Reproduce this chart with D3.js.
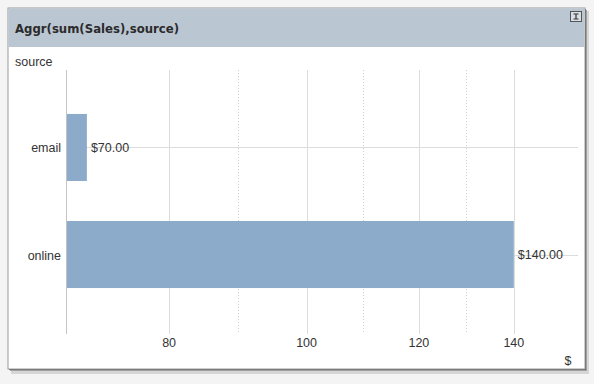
<!DOCTYPE html>
<html><head><meta charset="utf-8">
<script src="https://cdn.jsdelivr.net/npm/d3@7"></script>
<style>body{margin:0;background:#f4f4f4;}svg{display:block;}</style>
</head><body>
<svg id="c" width="594" height="384"></svg>
<script>
const categories = ["email", "online"];
const values = [70, 140];
const tickValues = [80, 100, 120, 140];
const valueLabels = ["$70.00", "$140.00"];
const title = "Aggr(sum(Sales),source)";
const dimLabel = "source";
const axisLabel = "$";

const svg = d3.select("#c");
const font = "'Liberation Sans', Arial, sans-serif";

// window shadow
svg.append("rect").attr("x", 11).attr("y", 11).attr("width", 578).attr("height", 363).attr("fill", "#d6d6d6");
svg.append("rect").attr("x", 10).attr("y", 10).attr("width", 577).attr("height", 361).attr("fill", "#a0a0a0");
svg.append("rect").attr("x", 9).attr("y", 9).attr("width", 577).attr("height", 361).attr("fill", "#5a5a5a");
// window
svg.append("rect").attr("x", 8).attr("y", 8).attr("width", 577).attr("height", 361).attr("fill", "#ffffff").attr("stroke", "#9a9a9a").attr("stroke-width", 1);
svg.append("rect").attr("x", 8.5).attr("y", 8.5).attr("width", 576).attr("height", 38.5).attr("fill", "#bbc6d3");
svg.append("text").attr("x", 15).attr("y", 33).attr("font-family", "Tahoma, 'DejaVu Sans', sans-serif").attr("font-weight", "bold")
  .attr("font-size", 13).attr("fill", "#2b2b2b").attr("textLength", 164).attr("lengthAdjust", "spacingAndGlyphs").text(title);
// minimize icon
const ic = svg.append("g").attr("transform", "translate(570,11)");
ic.append("rect").attr("x", 0.5).attr("y", 0.5).attr("width", 11).attr("height", 10).attr("fill", "#d8dee6").attr("stroke", "#555");
ic.append("path").attr("d", "M3.5,3 H8.5 M3.5,8 H8.5 M6,3 V8").attr("stroke", "#333").attr("stroke-width", 1.2);

const x = d3.scaleLog().domain([67.7, 155.3]).range([66.3, 577.7]);
const y = d3.scaleBand().domain(categories).range([69, 333]).paddingInner(0.374).paddingOuter(0.42);

// major grid
svg.append("g").selectAll("line").data(tickValues).join("line")
  .attr("x1", d => Math.round(x(d)) + 0.5).attr("x2", d => Math.round(x(d)) + 0.5)
  .attr("y1", 70).attr("y2", 334).attr("stroke", "#dcdcdc");
// minor grid at pixel midpoints
const mids = d3.pairs(tickValues).map(([a, b]) => (x(a) + x(b)) / 2);
svg.append("g").selectAll("line").data(mids).join("line")
  .attr("x1", d => Math.round(d) + 0.5).attr("x2", d => Math.round(d) + 0.5)
  .attr("y1", 70).attr("y2", 332).attr("stroke", "#d0d0d0").attr("stroke-dasharray", "1,2");
// category grid
svg.append("g").selectAll("line").data(categories).join("line")
  .attr("x1", 66).attr("x2", 578)
  .attr("y1", d => Math.round(y(d) + y.bandwidth() / 2) + 0.5).attr("y2", d => Math.round(y(d) + y.bandwidth() / 2) + 0.5)
  .attr("stroke", "#dcdcdc");

// bars
svg.append("g").selectAll("rect").data(values).join("rect")
  .attr("x", x.range()[0]).attr("y", (d, i) => y(categories[i]))
  .attr("width", d => x(d) - x.range()[0]).attr("height", y.bandwidth())
  .attr("fill", "#8caac9");

// y axis line
svg.append("line").attr("x1", 66.5).attr("x2", 66.5).attr("y1", 70).attr("y2", 334).attr("stroke", "#c4c4c4");

// value labels
svg.append("g").selectAll("text").data(values).join("text")
  .attr("x", d => x(d) + 4).attr("y", (d, i) => y(categories[i]) + y.bandwidth() / 2 + 4.5)
  .attr("font-family", font).attr("font-size", 12.5).attr("fill", "#333")
  .text((d, i) => valueLabels[i]);

// category labels
svg.append("g").selectAll("text").data(categories).join("text")
  .attr("x", 61).attr("y", d => y(d) + y.bandwidth() / 2 + 5).attr("text-anchor", "end")
  .attr("font-family", font).attr("font-size", 12.5).attr("fill", "#333").text(d => d);

// x tick labels
svg.append("g").selectAll("text").data(tickValues).join("text")
  .attr("x", d => x(d)).attr("y", 347).attr("text-anchor", "middle")
  .attr("font-family", font).attr("font-size", 12.5).attr("fill", "#333").text(d => d);

svg.append("text").attr("x", 15).attr("y", 66).attr("font-family", font).attr("font-size", 12.5).attr("fill", "#333").text(dimLabel);
svg.append("text").attr("x", 568).attr("y", 365).attr("text-anchor", "middle").attr("font-family", font).attr("font-size", 12.5).attr("fill", "#333").text(axisLabel);
</script>
</body></html>
